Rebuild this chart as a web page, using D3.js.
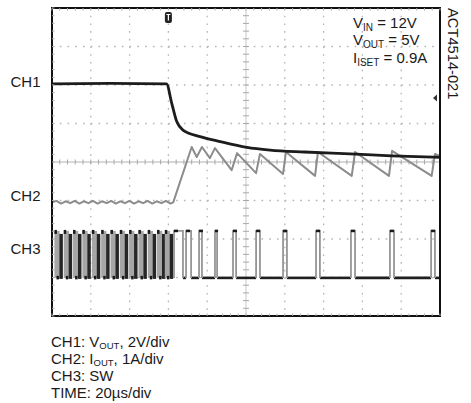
<!DOCTYPE html>
<html><head><meta charset="utf-8">
<script src="https://cdn.jsdelivr.net/npm/d3@7"></script>
<style>
body{margin:0;background:#fff}
svg{display:block}
text{font-family:"Liberation Sans",Arial,Helvetica,sans-serif;fill:#1a1a1a}
</style>
</head><body>
<script>
// ---- data (time in µs, 20 µs/div; vertical values in screen divisions) ----
const timeDomain = [0, 200];
const divDomain = [-4, 4];
const timeTicks = [0, 20, 40, 60, 80, 100, 120, 140, 160, 180, 200];
const divTicks = [-4, -3, -2, -1, 0, 1, 2, 3, 4];

const channelLabels = ["CH1", "CH2", "CH3"];
const channelMarks = [2.1, -0.88, -2.25];

// CH1: VOUT
const ch1Time = [0, 30, 59, 61.7, 64.3, 67.5, 76.3, 86.6, 100.4, 112.4, 130, 153.6, 175, 200];
const ch1Div  = [2.03, 2.04, 2.03, 1.53, 1.05, 0.83, 0.66, 0.53, 0.38, 0.31, 0.26, 0.21, 0.16, 0.12];

// CH2: IOUT
const ch2Time = [0, 2.3, 4.7, 7, 9.4, 11.7, 14.1, 16.4, 18.8, 21.1, 23.5, 25.8, 28.2, 30.5, 32.9, 35.2, 37.6, 39.9, 42.3, 44.6, 47, 49.3, 51.7, 54, 56.4, 58.7, 61.1, 62.5,
                 72.0, 74.6, 77.3, 81.4, 84.0, 92.6, 95.4, 105.2, 107.2, 119.1, 120.6, 135.6, 137.1, 154.5, 156.2, 173.7, 175.3, 195.7, 197.4, 200];
const ch2Div  = [-1.05, -1.01, -1.08, -1.02, -1.07, -1.01, -1.08, -1.02, -1.07, -1.01, -1.08, -1.02, -1.07, -1.01, -1.08, -1.02, -1.07, -1.01, -1.08, -1.02, -1.07, -1.01, -1.08, -1.02, -1.07, -1.01, -1.08, -1.05,
                 0.39, 0.13, 0.39, 0.10, 0.36, -0.21, 0.23, -0.29, 0.21, -0.31, 0.26, -0.36, 0.26, -0.36, 0.26, -0.36, 0.29, -0.36, 0.21, 0.16];

// CH3: SW node
const swHigh = -1.79;
const swLow = -3.01;
const swBurstStart = [1.5, 6.3, 11.1, 15.9, 20.8, 25.6, 30.4, 35.2, 40.0, 44.8, 49.6, 54.4, 58.4];
const swPulseRise = [62.9, 69.1, 75.8, 84.0, 93.3, 105.2, 119.1, 136.1, 154.1, 174.2, 195.4];
const swPulseFall = [67.5, 71.7, 77.3, 85.1, 94.9, 107.2, 121.1, 138.1, 156.2, 176.3, 197.4];

const triggerTime = 60;
const triggerLevel = 1.66;

const condLines = [["V", "IN", " = 12V"], ["V", "OUT", " = 5V"], ["I", "ISET", " = 0.9A"]];
const noteLines = [["CH1: V", "OUT", ", 2V/div"], ["CH2: I", "OUT", ", 1A/div"], ["CH3: SW", "", ""], ["TIME: 20µs/div", "", ""]];
const figId = "ACT4514-021";

// ---- drawing ----
const W = 471, H = 403;
const svg = d3.select("body").append("svg").attr("width", W).attr("height", H);
const x = d3.scaleLinear().domain(timeDomain).range([52, 440]);
const y = d3.scaleLinear().domain(divDomain).range([316, 8]);

const divW = x(20) - x(0), divH = y(-1) - y(0);
const grid = svg.append("g");
// dotted grid
grid.selectAll(".vg").data(timeTicks.slice(1, -1).filter(t => t !== 100)).join("line")
  .attr("x1", d => x(d)).attr("x2", d => x(d)).attr("y1", y(4)).attr("y2", y(-4))
  .attr("stroke", "#b5b5b5").attr("stroke-width", 1.3)
  .attr("stroke-dasharray", `1.6 ${divH / 5 - 1.6}`);
grid.selectAll(".hg").data(divTicks.slice(1, -1).filter(t => t !== 0)).join("line")
  .attr("y1", d => y(d)).attr("y2", d => y(d)).attr("x1", x(0)).attr("x2", x(200))
  .attr("stroke", "#b5b5b5").attr("stroke-width", 1.3)
  .attr("stroke-dasharray", `1.6 ${divW / 5 - 1.6}`);
// centre cross with minor ticks
grid.append("line").attr("x1", x(0)).attr("x2", x(200)).attr("y1", y(0)).attr("y2", y(0))
  .attr("stroke", "#b0b0b0").attr("stroke-width", 1);
grid.append("line").attr("x1", x(100)).attr("x2", x(100)).attr("y1", y(4)).attr("y2", y(-4))
  .attr("stroke", "#c8c8c8").attr("stroke-width", 1);
const minorT = d3.range(0, 200.01, 4);
const minorD = d3.range(-4, 4.01, 0.2);
grid.selectAll(".mt").data(minorT).join("line")
  .attr("x1", d => x(d)).attr("x2", d => x(d)).attr("y1", y(0) - 2.5).attr("y2", y(0) + 2.5)
  .attr("stroke", "#a8a8a8").attr("stroke-width", 1);
grid.selectAll(".md").data(minorD).join("line")
  .attr("y1", d => y(d)).attr("y2", d => y(d)).attr("x1", x(100) - 3).attr("x2", x(100) + 3)
  .attr("stroke", "#a8a8a8").attr("stroke-width", 1);

// CH2 trace
const line = d3.line().x(d => x(d[0])).y(d => y(d[1]));
svg.append("path").datum(ch2Time.map((t, i) => [t, ch2Div[i]]))
  .attr("d", line).attr("fill", "none").attr("stroke", "#8c8c8c").attr("stroke-width", 2)
  .attr("stroke-linejoin", "round");

// CH1 trace
svg.append("path").datum(ch1Time.map((t, i) => [t, ch1Div[i]]))
  .attr("d", d3.line().x(d => x(d[0])).y(d => y(d[1])).curve(d3.curveMonotoneX))
  .attr("fill", "none").attr("stroke", "#1c1c1c").attr("stroke-width", 2.8);

// CH3 burst region
const sw = svg.append("g");
const bg = sw.selectAll(".burst").data(swBurstStart).join("g");
bg.append("rect").attr("x", d => x(d) - 0.5).attr("width", d => x(d + 2.7) - x(d))
  .attr("y", y(swHigh)).attr("height", y(swLow) - y(swHigh)).attr("fill", "#a6a6a6");
bg.append("rect").attr("x", d => x(d + 2.3)).attr("width", d => x(d + 4.1) - x(d + 2.3))
  .attr("y", y(swHigh) + 3).attr("height", y(swLow) - y(swHigh) - 2).attr("fill", "#262626");
bg.append("rect").attr("x", d => x(d) - 0.5).attr("width", 2.5)
  .attr("y", y(swHigh) - 1).attr("height", 4).attr("fill", "#1a1a1a");
bg.append("rect").attr("x", d => x(d + 0.8)).attr("width", 2.5)
  .attr("y", y(swLow) - 2).attr("height", 3.5).attr("fill", "#1a1a1a");

// CH3 pulses after the transient
const lowSegs = swPulseFall.map((f, i) => [f, i + 1 < swPulseRise.length ? swPulseRise[i + 1] : timeDomain[1]]);
sw.selectAll(".low").data(lowSegs).join("line")
  .attr("x1", d => x(d[0])).attr("x2", d => x(d[1])).attr("y1", y(swLow)).attr("y2", y(swLow))
  .attr("stroke", "#1f1f1f").attr("stroke-width", 2.6);
const pulses = swPulseRise.map((r, i) => [r, swPulseFall[i]]);
sw.selectAll(".pulse").data(pulses).join("path")
  .attr("d", d => `M${x(d[0])},${y(swLow)}V${y(swHigh)}H${x(d[1])}V${y(swLow)}`)
  .attr("fill", "none").attr("stroke", "#969696").attr("stroke-width", 1.8);
sw.selectAll(".ptop").data(pulses).join("path")
  .attr("d", d => `M${x(d[0])},${y(swHigh)}H${Math.min(x(d[0]) + 4, x(d[1]) + 1)}`)
  .attr("stroke", "#1a1a1a").attr("stroke-width", 2.6);

// frame
const frame = svg.append("g");
frame.append("rect").attr("x", x(0)).attr("y", y(4)).attr("width", x(200) - x(0)).attr("height", y(-4) - y(4))
  .attr("fill", "none").attr("stroke", "#111").attr("stroke-width", 2);
frame.selectAll(".et").data(minorT).join("line")
  .attr("x1", d => x(d)).attr("x2", d => x(d)).attr("y1", y(4)).attr("y2", y(4) + 2.5)
  .attr("stroke", "#aaa");
frame.selectAll(".eb").data(minorT).join("line")
  .attr("x1", d => x(d)).attr("x2", d => x(d)).attr("y1", y(-4)).attr("y2", y(-4) - 2.5)
  .attr("stroke", "#aaa");
frame.selectAll(".el").data(minorD).join("line")
  .attr("y1", d => y(d)).attr("y2", d => y(d)).attr("x1", x(0)).attr("x2", x(0) + 2.5)
  .attr("stroke", "#aaa");

// trigger marker
const tg = svg.append("g").attr("transform", `translate(${x(triggerTime)},${y(4) + 4})`);
tg.append("rect").attr("x", -3.5).attr("y", 0).attr("width", 7).attr("height", 11).attr("rx", 2).attr("fill", "#222");
tg.append("path").attr("d", "M-2,2.5H2M0,2.5V8.5").attr("stroke", "#fff").attr("stroke-width", 1.2);
// trigger level marker
svg.append("path")
  .attr("d", `M${x(200) - 7},${y(triggerLevel)}l4,-3.5v7z`).attr("fill", "#333");

// channel labels
svg.selectAll(".chl").data(channelLabels).join("text")
  .attr("x", 40.5).attr("y", (d, i) => y(channelMarks[i]) + 5.5).attr("text-anchor", "end")
  .attr("font-size", 15).text(d => d);

// conditions (top right)
svg.append("g").selectAll("text").data(condLines).join("text")
  .attr("x", 353).attr("y", (d, i) => [28, 45, 63][i]).attr("font-size", 15)
  .each(function (d) {
    const t = d3.select(this);
    t.append("tspan").text(d[0]);
    t.append("tspan").attr("font-size", 10).attr("dy", 2.5).text(d[1]);
    t.append("tspan").attr("dy", -2.5).text(d[2]);
  });

// bottom notes
svg.append("g").selectAll("text").data(noteLines).join("text")
  .attr("x", 51).attr("y", (d, i) => 346.5 + i * 17.1).attr("font-size", 15)
  .each(function (d) {
    const t = d3.select(this);
    t.append("tspan").text(d[0]);
    if (d[1]) {
      t.append("tspan").attr("font-size", 9.5).attr("dy", 2).text(d[1]);
      t.append("tspan").attr("dy", -2).text(d[2]);
    }
  });

// rotated figure id
svg.append("text").attr("transform", "translate(448,8) rotate(90)")
  .attr("font-size", 14.7).text(figId);
</script>
</body></html>
